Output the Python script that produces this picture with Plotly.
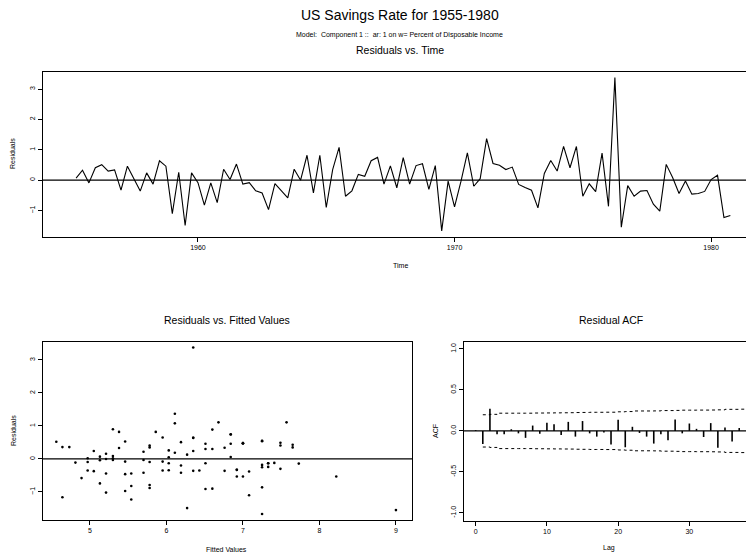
import plotly.graph_objects as go

W, H = 746, 554

# ---------------- data ----------------
start_year = 1955.25          # first residual (AR(1) drops the first quarter)
periods_per_year = 4

residuals = [
    0.07, 0.33, -0.09, 0.41, 0.51, 0.30, 0.34, -0.33, 0.46, 0.06,
    -0.36, 0.24, -0.13, 0.64, 0.46, -1.10, 0.26, -1.49, 0.24, -0.08,
    -0.82, -0.09, -0.74, 0.36, 0.02, 0.53, -0.13, -0.08, -0.35, -0.42,
    -0.97, -0.11, -0.35, -0.58, 0.36, 0.00, 0.82, -0.42, 0.82, -0.90,
    0.35, 1.08, -0.53, -0.35, 0.19, 0.13, 0.64, 0.75, -0.13, 0.47,
    -0.25, 0.74, -0.13, 0.48, 0.54, -0.30, 0.48, -1.67, -0.03, -0.88,
    -0.04, 0.90, -0.20, 0.05, 1.37, 0.55, 0.49, 0.35, 0.43, -0.14,
    -0.24, -0.33, -0.91, 0.22, 0.65, 0.30, 1.11, 0.41, 1.11, -0.53,
    -0.12, -0.38, 0.89, -0.86, 3.38, -1.55, -0.18, -0.53, -0.36, -0.34,
    -0.79, -1.02, 0.52, 0.09, -0.44, -0.03, -0.46, -0.44, -0.37, 0.02,
    0.16, -1.23, -1.16,
]

fitted = [
    5.13, 5.38, 5.78, 5.78, 6.19, 6.60, 6.76, 6.92, 6.51, 6.84,
    6.76, 6.35, 6.51, 6.35, 6.84, 7.08, 6.03, 6.27, 5.05, 5.46,
    5.54, 4.97, 5.13, 4.73, 5.30, 5.46, 6.03, 5.95, 5.95, 5.70,
    5.46, 4.81, 4.97, 4.89, 4.64, 5.21, 5.38, 6.19, 5.86, 6.60,
    5.78, 6.11, 7.00, 6.43, 6.11, 6.27, 6.35, 6.84, 7.33, 7.00,
    7.25, 6.84, 7.33, 7.00, 7.25, 7.49, 7.00, 7.25, 5.70, 5.78,
    5.13, 5.30, 6.19, 6.03, 6.11, 7.25, 7.49, 7.65, 7.65, 7.73,
    7.33, 6.92, 6.51, 5.70, 5.95, 6.51, 6.68, 7.49, 7.57, 8.22,
    7.41, 7.08, 6.60, 7.25, 6.35, 9.00, 7.25, 6.92, 6.35, 6.03,
    5.78, 5.21, 4.56, 5.30, 5.54, 5.30, 5.46, 5.21, 5.05, 4.97,
    5.21, 5.54, 4.64,
]

acf_lags = list(range(38))
acf_values = [
    0.01, -0.16, 0.27, -0.04, -0.04, 0.02, -0.03, -0.085, 0.065, -0.035,
    0.10, 0.08, -0.05, 0.11, -0.07, 0.12, -0.03, -0.07, -0.02, -0.165,
    0.135, -0.20, 0.05, -0.025, -0.07, -0.155, -0.04, -0.115, 0.14, -0.03,
    0.09, 0.025, -0.075, 0.095, -0.205, 0.04, -0.13, 0.035,
]

band_lags = list(range(1, 39))
band_upper = [
    0.197, 0.202, 0.216, 0.216, 0.216, 0.216, 0.216, 0.218, 0.218, 0.219,
    0.220, 0.221, 0.222, 0.224, 0.225, 0.227, 0.227, 0.228, 0.228, 0.233,
    0.236, 0.243, 0.243, 0.243, 0.244, 0.248, 0.248, 0.250, 0.253, 0.253,
    0.254, 0.254, 0.255, 0.257, 0.263, 0.263, 0.265, 0.265,
]

time_ticks = [1960, 1970, 1980]
fit_ticks = [5, 6, 7, 8, 9]
res_ticks = [-1, 0, 1, 2, 3]
lag_ticks = [0, 10, 20, 30]
acf_ticks = [-1.0, -0.5, 0.0, 0.5, 1.0]
acf_ticktext = ["-1.0", "-0.5", "0.0", "0.5", "1.0"]

# ---------------- figure ----------------
FONT = "Liberation Sans, Arial, Helvetica, sans-serif"
time = [start_year + i / periods_per_year for i in range(len(residuals))]

fig = go.Figure()
fig.add_trace(go.Scatter(x=time, y=residuals, mode="lines",
                         line=dict(color="black", width=1.1),
                         xaxis="x", yaxis="y", showlegend=False, hoverinfo="skip"))
fig.add_trace(go.Scatter(x=fitted, y=residuals, mode="markers",
                         marker=dict(color="black", size=2.6),
                         xaxis="x2", yaxis="y2", showlegend=False, hoverinfo="skip"))
sx, sy = [], []
for l, v in zip(acf_lags, acf_values):
    sx += [l, l, None]
    sy += [0, v, None]
fig.add_trace(go.Scatter(x=sx, y=sy, mode="lines",
                         line=dict(color="black", width=1.6),
                         xaxis="x3", yaxis="y3", showlegend=False, hoverinfo="skip"))
for sign in (1, -1):
    fig.add_trace(go.Scatter(x=band_lags, y=[sign * b for b in band_upper], mode="lines",
                             line=dict(color="black", width=1, dash="dot", shape="hv"),
                             xaxis="x3", yaxis="y3", showlegend=False, hoverinfo="skip"))


def px_x(p):
    return p / W


def px_y(p):
    return 1 - p / H


axis_common = dict(showgrid=False, zeroline=False, ticks="outside", ticklen=4,
                   tickwidth=1, tickcolor="black", showline=True, linecolor="black",
                   linewidth=1, tickfont=dict(size=7, color="black", family=FONT))

fig.update_layout(
    width=W, height=H,
    margin=dict(l=0, r=0, t=0, b=0),
    paper_bgcolor="white", plot_bgcolor="white",
    font=dict(family=FONT, color="black"),
    xaxis=dict(domain=[px_x(43), 1], range=[1953.96, 1981.36], tickvals=time_ticks,
               mirror=True, anchor="y", **axis_common),
    yaxis=dict(domain=[px_y(237), px_y(72)], range=[-1.87, 3.56], tickvals=res_ticks,
               tickangle=-90, anchor="x", **axis_common),
    xaxis2=dict(domain=[px_x(43), px_x(412)], range=[4.386, 9.21], tickvals=fit_ticks,
                mirror=True, anchor="y2", **axis_common),
    yaxis2=dict(domain=[px_y(520), px_y(342)], range=[-1.85, 3.545], tickvals=res_ticks,
                tickangle=-90, mirror=True, anchor="x2", **axis_common),
    xaxis3=dict(domain=[px_x(464), 1], range=[-1.64, 37.95], tickvals=lag_ticks,
                mirror=True, anchor="y3", **axis_common),
    yaxis3=dict(domain=[px_y(521), px_y(342)], range=[-1.10, 1.085], tickvals=acf_ticks,
                ticktext=acf_ticktext, tickangle=-90, anchor="x3", **axis_common),
)

for xr in ("x", "x2", "x3"):
    yr = xr.replace("x", "y")
    fig.add_shape(type="line", xref=f"{xr} domain", yref=yr, x0=0, x1=1, y0=0, y1=0,
                  line=dict(color="black", width=1.3))


def label(text, x, y, size, angle=0):
    fig.add_annotation(text=text, x=px_x(x), y=px_y(y), xref="paper", yref="paper",
                       showarrow=False, xanchor="center", yanchor="middle",
                       textangle=angle, font=dict(size=size, color="black", family=FONT))


NB = "\u00a0"
label("US Savings Rate for 1955-1980", 400, 15, 14)
label(f"Model:{NB}{NB}Component 1 ::{NB}{NB}ar: 1 on w= Percent of Disposable Income", 399, 35, 7)
label("Residuals vs. Time", 400, 50, 10.5)
label("Time", 400, 266, 7)
label("Residuals", 13, 154, 7, -90)
label("Residuals vs. Fitted Values", 227, 320, 10.5)
label("Fitted Values", 227, 549, 7)
label("Residuals", 13, 431, 7, -90)
label("Residual ACF", 611, 320, 10.5)
label("Lag", 609, 548, 7)
label("ACF", 435, 431, 7, -90)

fig.write_html(
    "out.html",
    config={"displayModeBar": False, "staticPlot": True},
    post_script="document.body.style.margin='0';document.body.style.overflow='hidden';",
)
